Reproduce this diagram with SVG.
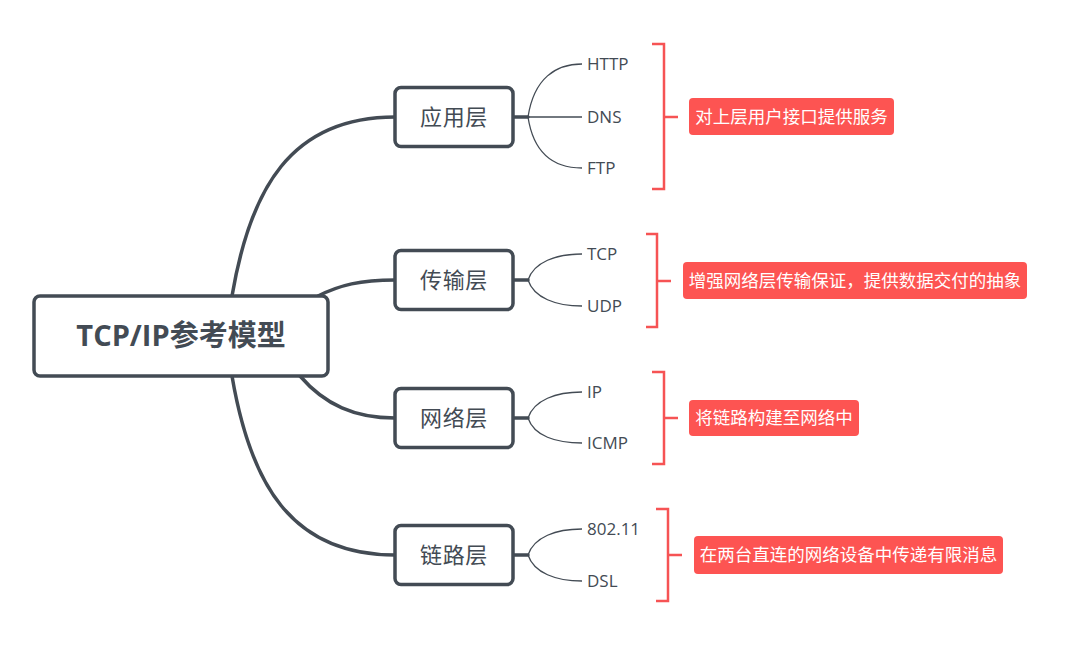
<svg xmlns="http://www.w3.org/2000/svg" width="1073" height="647" viewBox="0 0 1073 647">
<style>
.box{fill:#fff;stroke:#434b54;stroke-width:3.5}
.main{fill:none;stroke:#434b54;stroke-width:3.5;stroke-linecap:round}
.sub{fill:none;stroke:#434b54;stroke-width:1.3}
.br{fill:none;stroke:#f65354;stroke-width:2.5}
.lbl{fill:#fd5452}
.root{font-family:"Open Sans","Noto Sans CJK SC",sans-serif;font-weight:bold;font-size:29px;fill:#434b54}
.layer{font-family:"Noto Sans CJK SC",sans-serif;font-size:22px;fill:#434b54;letter-spacing:0.6px}
.proto{font-family:"Open Sans","Noto Sans CJK SC",sans-serif;font-size:17px;fill:#434b54}
.note{font-family:"Noto Sans CJK SC",sans-serif;font-size:17.5px;fill:#fff}
</style>
<rect width="1073" height="647" fill="#fff"/>
<g id="connectors">
<path class="main" d="M232,296 C250,190 290,117 395,117"/>
<path class="main" d="M318,296 C340,285 360,280 395,280"/>
<path class="main" d="M300,376 C325,405 355,418 395,418"/>
<path class="main" d="M232,376 C250,482 290,555 395,555"/>
<path class="main" d="M513,117 H528"/>
<path class="main" d="M513,280 H528"/>
<path class="main" d="M513,418 H528"/>
<path class="main" d="M513,555 H528"/>
<path class="sub" d="M528,117 C534,78 556,64 582,64"/>
<path class="sub" d="M528,117 H582"/>
<path class="sub" d="M528,117 C534,156 556,168 582,168"/>
<path class="sub" d="M528,280 C534,262 556,254 582,254"/>
<path class="sub" d="M528,280 C534,298 556,306 582,306"/>
<path class="sub" d="M528,418 C534,400 556,392 582,392"/>
<path class="sub" d="M528,418 C534,436 556,443 582,443"/>
<path class="sub" d="M528,555 C534,537 556,529 582,529"/>
<path class="sub" d="M528,555 C534,573 556,581 582,581"/>
</g>
<g id="root">
<rect class="box" x="34" y="296" width="294" height="80" rx="6"/>
<text class="root" x="181" y="346" text-anchor="middle">TCP/IP参考模型</text>
</g>
<g id="app">
<rect class="box" x="395" y="87.5" width="118" height="59" rx="6"/>
<text class="layer" x="454" y="125" text-anchor="middle">应用层</text>
<text class="proto" x="587" y="70">HTTP</text>
<text class="proto" x="587" y="123">DNS</text>
<text class="proto" x="587" y="174">FTP</text>
<path class="br" d="M652,44 H664 V189 H652 M664,117 H678"/>
<rect class="lbl" x="689" y="98" width="205" height="37" rx="4"/>
<text class="note" x="791.5" y="122.5" text-anchor="middle">对上层用户接口提供服务</text>
</g>
<g id="transport">
<rect class="box" x="395" y="250.5" width="118" height="59" rx="6"/>
<text class="layer" x="454" y="288" text-anchor="middle">传输层</text>
<text class="proto" x="587" y="260">TCP</text>
<text class="proto" x="587" y="312">UDP</text>
<path class="br" d="M646,234 H657 V327 H646 M657,281 H671"/>
<rect class="lbl" x="683" y="262" width="344" height="37" rx="4"/>
<text class="note" x="855" y="286.5" text-anchor="middle">增强网络层传输保证，提供数据交付的抽象</text>
</g>
<g id="network">
<rect class="box" x="395" y="388.5" width="118" height="59" rx="6"/>
<text class="layer" x="454" y="426" text-anchor="middle">网络层</text>
<text class="proto" x="587" y="398">IP</text>
<text class="proto" x="587" y="449">ICMP</text>
<path class="br" d="M652,372 H664 V464 H652 M664,418 H678"/>
<rect class="lbl" x="689" y="400" width="170" height="36" rx="4"/>
<text class="note" x="774" y="424" text-anchor="middle">将链路构建至网络中</text>
</g>
<g id="link">
<rect class="box" x="395" y="525.5" width="118" height="59" rx="6"/>
<text class="layer" x="454" y="563" text-anchor="middle">链路层</text>
<text class="proto" x="587" y="535">802.11</text>
<text class="proto" x="587" y="587">DSL</text>
<path class="br" d="M656,509 H668 V601 H656 M668,555 H682"/>
<rect class="lbl" x="694" y="536" width="309" height="38" rx="4"/>
<text class="note" x="848.5" y="561" text-anchor="middle">在两台直连的网络设备中传递有限消息</text>
</g>
</svg>
